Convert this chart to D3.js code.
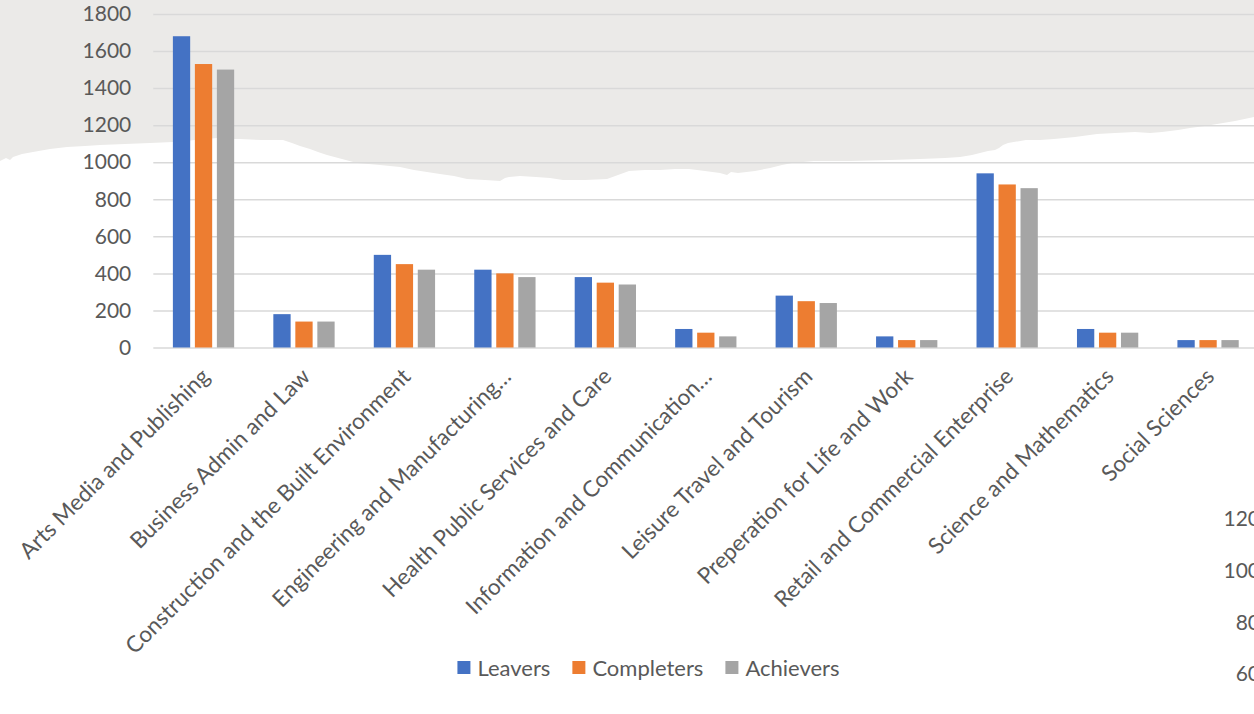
<!DOCTYPE html>
<html>
<head>
<meta charset="utf-8">
<script src="https://cdn.jsdelivr.net/npm/d3@7"></script>
<style>
  html, body { margin: 0; padding: 0; background: #ffffff; }
  svg { display: block; }
  text { font-family: Lato, "Open Sans", sans-serif; fill: #595959; }
</style>
</head>
<body>
<svg id="chart" width="1254" height="714"></svg>
<script>
// Sector areas on the x axis
const categories = [
  "Arts Media and Publishing",
  "Business Admin and Law",
  "Construction and the Built Environment",
  "Engineering and Manufacturing…",
  "Health Public Services and Care",
  "Information and Communication…",
  "Leisure Travel and Tourism",
  "Preperation for Life and Work",
  "Retail and Commercial Enterprise",
  "Science and Mathematics",
  "Social Sciences"
];

const seriesNames = ["Leavers", "Completers", "Achievers"];

// Learner counts per sector
const leavers    = [1680, 180, 500, 420, 380, 100, 280, 60, 940, 100, 40];
const completers = [1530, 140, 450, 400, 350,  80, 250, 40, 880,  80, 40];
const achievers  = [1500, 140, 420, 380, 340,  60, 240, 40, 860,  80, 40];

const yTicks = [0, 200, 400, 600, 800, 1000, 1200, 1400, 1600, 1800];

// Tick labels of the neighbouring chart that peek in at the right edge
const sideTicks = [120, 100, 80, 60];

const colors = ["#4472C4", "#ED7D31", "#A5A5A5"];

const svg = d3.select("#chart");

// Torn grey paper across the top of the sheet
const paperEdge = [
  [0,161],[6,158],[10,160],[13,157],[22,154],[33,152],[50,149],[67,147],[85,146],[100,145],
  [125,144],[150,143],[173,142],[195,140],[217,138],[230,139],[240,139],[262,140],[283,140],
  [292,143],[300,146],[310,149],[318,152],[327,155],[342,159],[357,163],[380,165],[400,167],
  [414,170],[427,172],[440,174],[454,176],[467,179],[485,180],[500,181],[505,178],[509,177],
  [520,176],[536,177],[550,178],[563,180],[585,180],[607,179],[618,175],[629,171],[645,170],
  [660,170],[675,169],[689,169],[705,171],[720,173],[727,175],[731,172],[738,173],[755,171],
  [770,168],[782,165],[792,163],[803,162],[814,161],[850,161],[890,160],[920,159],[945,158],
  [960,157],[972,155],[980,153],[988,151],[995,150],[999,148],[1003,145],[1008,143],[1026,140],
  [1040,140],[1054,139],[1075,137],[1097,134],[1115,133],[1135,132],[1150,133],[1162,132],
  [1178,130],[1190,128],[1205,126],[1217,124],[1235,121],[1254,117]
];
const paperPath = [[0,0], ...paperEdge, [1254,0]];
svg.append("path")
  .attr("d", d3.line()(paperPath) + "Z")
  .attr("fill", "#ebeae8");

const plotLeft = 153.3, plotRight = 1258.3;
const y = d3.scaleLinear().domain([0, 1800]).range([347.5, 14]);

const x0 = d3.scaleBand()
  .domain(categories)
  .range([plotLeft, plotRight])
  .paddingInner(0.343)
  .paddingOuter(0.1715);

const x1 = d3.scaleBand()
  .domain(seriesNames)
  .range([0, x0.bandwidth()])
  .paddingInner(0.214)
  .paddingOuter(0.107);

// Horizontal gridlines and value labels
const yAxis = d3.axisLeft(y)
  .tickValues(yTicks)
  .tickSize(-(1254 - plotLeft))
  .tickPadding(22)
  .tickFormat(d3.format("d"));

const gy = svg.append("g")
  .attr("transform", `translate(${plotLeft},0)`)
  .call(yAxis);
gy.select(".domain").remove();
gy.selectAll(".tick line").attr("stroke", "#d9d9d9").attr("stroke-width", 1.5);
gy.selectAll(".tick text")
  .attr("font-size", 21)
  .attr("fill", "#595959")
  .style("font-family", "Lato, 'Open Sans', sans-serif");

// Bars
const seriesData = [leavers, completers, achievers];
const groups = svg.append("g")
  .selectAll("g")
  .data(categories)
  .join("g")
  .attr("transform", d => `translate(${x0(d)},0)`);

groups.selectAll("rect")
  .data((d, i) => seriesNames.map((s, k) => ({ series: s, value: seriesData[k][i], k })))
  .join("rect")
  .attr("x", d => x1(d.series))
  .attr("width", x1.bandwidth())
  .attr("y", d => y(d.value))
  .attr("height", d => y(0) - y(d.value))
  .attr("fill", d => colors[d.k]);

// Category labels, slanted
const xAxis = d3.axisBottom(x0).tickSize(0).tickPadding(0);
const gx = svg.append("g")
  .attr("transform", `translate(0,${y(0)})`)
  .call(xAxis);
gx.select(".domain").remove();
gx.selectAll(".tick text")
  .attr("font-size", 22.5)
  .attr("fill", "#595959")
  .style("font-family", "Lato, 'Open Sans', sans-serif")
  .attr("text-anchor", "end")
  .attr("dy", "0.72em")
  .attr("transform", "translate(-4,19) rotate(-45)");

// Legend
const legend = svg.append("g").attr("transform", "translate(0,668)");
const items = legend.selectAll("g")
  .data(seriesNames)
  .join("g");
items.append("rect")
  .attr("width", 13).attr("height", 13)
  .attr("y", -7)
  .attr("fill", (d, i) => colors[i]);
items.append("text")
  .attr("x", 20)
  .attr("dy", "0.35em")
  .attr("font-size", 22)
  .text(d => d);
let cursor = 0;
const offsets = [];
items.each(function () {
  offsets.push(cursor);
  const w = this.querySelector("text").getComputedTextLength();
  cursor += 20 + w + 22;
});
const total = cursor - 22;
const startX = 648.5 - total / 2;
items.attr("transform", (d, i) => `translate(${startX + offsets[i]},0)`);

// Right-edge tick labels of the next chart
const ySide = d3.scaleLinear().domain([60, 120]).range([674, 519]);
svg.append("g")
  .selectAll("text")
  .data(sideTicks)
  .join("text")
  .attr("x", 1260)
  .attr("y", d => ySide(d))
  .attr("dy", "0.35em")
  .attr("text-anchor", "end")
  .attr("font-size", 21)
  .text(d => d);
</script>
</body>
</html>
